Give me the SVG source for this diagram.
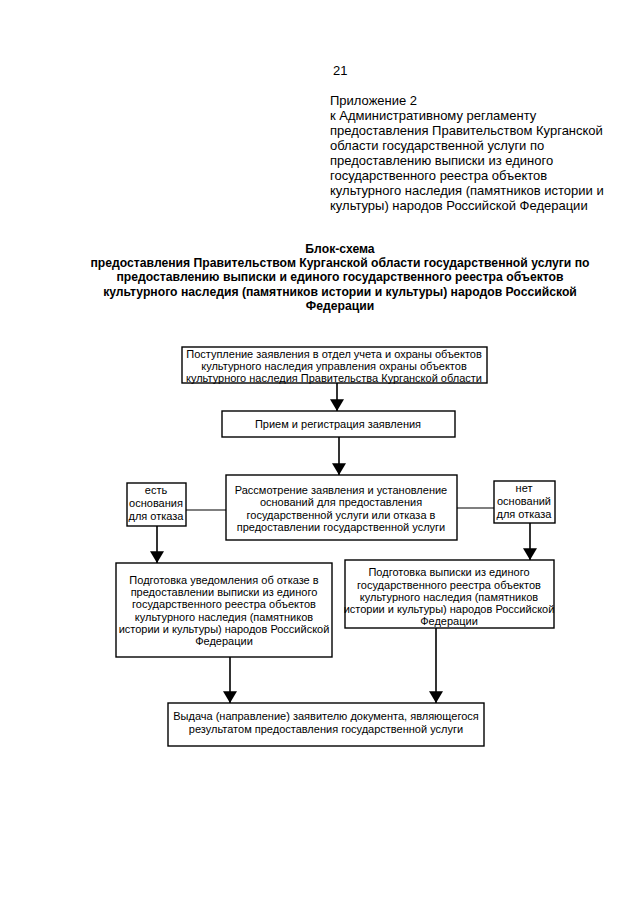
<svg xmlns="http://www.w3.org/2000/svg" width="640" height="905" viewBox="0 0 640 905">
<defs>
<style>
.hd{font-family:"Liberation Sans",Arial,sans-serif;font-size:13px;fill:#000}
.tt{font-family:"Liberation Sans",Arial,sans-serif;font-size:12.2px;font-weight:bold;fill:#000;text-anchor:middle}
.bx{fill:#fff;stroke:#000;stroke-width:1.4}
.t{font-family:"Liberation Sans",Arial,sans-serif;font-size:11px;fill:#000;text-anchor:middle}
.ln{stroke:#000;stroke-width:1.2;fill:none}
.ar{stroke:#000;stroke-width:1.6;fill:none;marker-end:url(#ah)}
</style>
<marker id="ah" viewBox="0 0 10 12" refX="10" refY="6" markerUnits="userSpaceOnUse" markerWidth="13" markerHeight="14" orient="auto">
<path d="M0,0 L10,6 L0,12 Z" fill="#000"/>
</marker>
</defs>
<rect width="640" height="905" fill="#fff"/>
<g id="header">
<text class="hd" x="333" y="75">21</text>
<text class="hd" x="330" y="105">Приложение 2</text>
<text class="hd" x="330" y="120">к Административному регламенту</text>
<text class="hd" x="330" y="135">предоставления Правительством Курганской</text>
<text class="hd" x="330" y="150">области государственной услуги по</text>
<text class="hd" x="330" y="165">предоставлению выписки из единого</text>
<text class="hd" x="330" y="180">государственного реестра объектов</text>
<text class="hd" x="330" y="195">культурного наследия (памятников истории и</text>
<text class="hd" x="330" y="210">культуры) народов Российской Федерации</text>
</g>
<g id="title">
<text class="tt" x="340" y="253">Блок-схема</text>
<text class="tt" x="340" y="267">предоставления Правительством Курганской области государственной услуги по</text>
<text class="tt" x="340" y="281">предоставлению выписки и единого государственного реестра объектов</text>
<text class="tt" x="340" y="296">культурного наследия (памятников истории и культуры) народов Российской</text>
<text class="tt" x="340" y="310">Федерации</text>
</g>
<g id="connectors">
<line class="ar" x1="337" y1="383" x2="337" y2="411"/>
<line class="ar" x1="339" y1="437" x2="339" y2="475"/>
<line class="ln" x1="186" y1="510" x2="226" y2="510"/>
<line class="ln" x1="457" y1="508" x2="494" y2="508"/>
<line class="ar" x1="157" y1="526" x2="157" y2="563"/>
<line class="ar" x1="530" y1="523" x2="530" y2="560"/>
<line class="ar" x1="230" y1="657" x2="230" y2="703"/>
<line class="ar" x1="436" y1="628" x2="436" y2="703"/>
</g>
<g id="n1">
<rect class="bx" x="182" y="347" width="305" height="36"/>
<text class="t" x="334" y="358">Поступление заявления в отдел учета и охраны объектов</text>
<text class="t" x="334" y="370">культурного наследия управления охраны объектов</text>
<text class="t" x="334" y="382">культурного наследия Правительства Курганской области</text>
</g>
<g id="n2">
<rect class="bx" x="222" y="411" width="233" height="26"/>
<text class="t" x="338" y="428">Прием и регистрация заявления</text>
</g>
<g id="n3">
<rect class="bx" x="226" y="475" width="231" height="65"/>
<text class="t" x="341" y="494">Рассмотрение заявления и установление</text>
<text class="t" x="341" y="506">оснований для предоставления</text>
<text class="t" x="341" y="519">государственной услуги или отказа в</text>
<text class="t" x="341" y="531">предоставлении государственной услуги</text>
</g>
<g id="n_yes">
<rect class="bx" x="127" y="483" width="59" height="43"/>
<text class="t" x="156" y="494">есть</text>
<text class="t" x="156" y="507">основания</text>
<text class="t" x="156" y="520">для отказа</text>
</g>
<g id="n_no">
<rect class="bx" x="494" y="481" width="61" height="42"/>
<text class="t" x="524" y="492">нет</text>
<text class="t" x="524" y="505">оснований</text>
<text class="t" x="524" y="518">для отказа</text>
</g>
<g id="n4">
<rect class="bx" x="116" y="563" width="216" height="94"/>
<text class="t" x="224" y="584">Подготовка уведомления об отказе в</text>
<text class="t" x="224" y="596">предоставлении выписки из единого</text>
<text class="t" x="224" y="608">государственного реестра объектов</text>
<text class="t" x="224" y="621">культурного наследия (памятников</text>
<text class="t" x="224" y="633">истории и культуры) народов Российской</text>
<text class="t" x="224" y="645">Федерации</text>
</g>
<g id="n5">
<rect class="bx" x="345" y="560" width="209" height="68"/>
<text class="t" x="449" y="576">Подготовка выписки из единого</text>
<text class="t" x="449" y="589">государственного реестра объектов</text>
<text class="t" x="449" y="601">культурного наследия (памятников</text>
<text class="t" x="449" y="613">истории и культуры) народов Российской</text>
<text class="t" x="449" y="625">Федерации</text>
</g>
<g id="n6">
<rect class="bx" x="168" y="703" width="316" height="43"/>
<text class="t" x="326" y="720">Выдача (направление) заявителю документа, являющегося</text>
<text class="t" x="326" y="733">результатом предоставления государственной услуги</text>
</g>
</svg>
